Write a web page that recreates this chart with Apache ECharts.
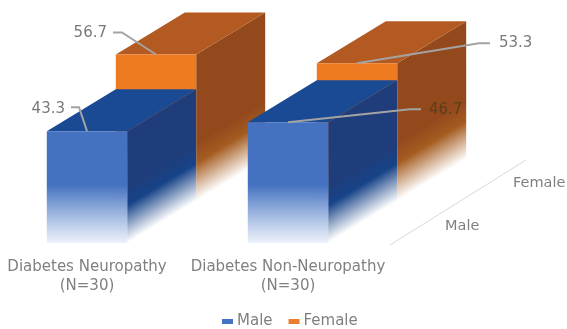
<!DOCTYPE html>
<html>
<head>
<meta charset="utf-8">
<title>Diabetes neuropathy by sex</title>
<style>
  html, body { margin: 0; padding: 0; background: #fff; }
  #chart { width: 567px; height: 329px; }
</style>
</head>
<body>
<div id="chart"></div>
<script src="https://cdn.jsdelivr.net/npm/echarts@6/dist/echarts.min.js"></script>
<script>
const categories = ['Diabetes Neuropathy\n(N=30)', 'Diabetes Non-Neuropathy\n(N=30)']
const depthLabels = ['Male', 'Female']
const maleValues = [43.3, 46.7]
const femaleValues = [56.7, 53.3]

// oblique projection of one depth step
const DEPTH_X = 69
const DEPTH_Y = -42
const FONT = '"DejaVu Sans", sans-serif'

const palettes = {
  male: { front: '#4472c0', top: '#1a4a94', side: ['#1f3d7a', '#174388'], fade: 58 },
  female: { front: '#ee7b22', top: '#b35a22', side: ['#93491c', '#a55c20'], fade: 58 }
}

// leader line of each label, relative to the middle of the bar's top front edge
const maleLeaders = [
  { knee: [-8, -24], end: [-16, -24], text: [-22, -22], color: '#7a7a7a' },
  { knee: [122, -13], end: [133, -13], text: [141, -12], color: '#5c3d1c' }
]
const femaleLeaders = [
  { knee: [-34, -22], end: [-43, -22], text: [-49, -21], color: '#7a7a7a' },
  { knee: [122, -20], end: [133, -20], text: [142, -20], color: '#7a7a7a' }
]

function fadeStops (from, to, fade) {
  return [
    { offset: 0, color: from },
    { offset: 0.35, color: to },
    { offset: 1, color: fade }
  ]
}

function renderBar (depth, palette, leaders, params, api) {
  const idx = api.value(0)
  const value = api.value(1)
  const w = api.size([1, 0])[0] * 0.4
  const mid = api.coord([idx, value])
  const base = api.coord([idx, 0])
  const cx = mid[0] + depth * DEPTH_X
  const l = cx - w / 2
  const r = cx + w / 2
  const t = mid[1] + depth * DEPTH_Y
  const b = base[1] + depth * DEPTH_Y

  // side face fades along lines parallel to its bottom edge
  const len = Math.hypot(DEPTH_X, DEPTH_Y)
  const nx = -DEPTH_Y / len
  const ny = DEPTH_X / len
  const fadeLen = palette.fade * ny
  const sideFill = new echarts.graphic.LinearGradient(
    r - nx * fadeLen, b - ny * fadeLen, r, b,
    fadeStops(palette.side[0], palette.side[1], 'rgba(255,255,255,0.95)'), true)
  const frontFill = new echarts.graphic.LinearGradient(
    0, b - palette.fade, 0, b,
    [{ offset: 0, color: palette.front }, { offset: 1, color: 'rgba(235,241,250,0.9)' }], true)

  const leader = leaders[params.dataIndex]
  return {
    type: 'group',
    children: [
      {
        type: 'polygon',
        shape: { points: [[r, t], [r + DEPTH_X, t + DEPTH_Y], [r + DEPTH_X, b + DEPTH_Y], [r, b]] },
        style: { fill: sideFill }
      },
      {
        type: 'polygon',
        shape: { points: [[l, t], [r, t], [r + DEPTH_X, t + DEPTH_Y], [l + DEPTH_X, t + DEPTH_Y]] },
        style: { fill: palette.top }
      },
      {
        type: 'rect',
        shape: { x: l, y: t, width: w, height: b - t },
        style: { fill: frontFill }
      },
      {
        type: 'polyline',
        shape: { points: [[cx, t], [cx + leader.knee[0], t + leader.knee[1]], [cx + leader.end[0], t + leader.end[1]]] },
        style: { stroke: '#a3a3a3', lineWidth: 2, fill: null }
      },
      {
        type: 'text',
        x: cx + leader.text[0],
        y: t + leader.text[1],
        style: {
          text: value.toFixed(1),
          fill: leader.color,
          font: '15px ' + FONT,
          align: leader.text[0] < 0 ? 'right' : 'left',
          verticalAlign: 'middle'
        }
      }
    ]
  }
}

// depth axis to the right of the last bar, one label per depth step
function renderDepthAxis (params, api) {
  const origin = api.coord([categories.length - 1, 0])
  const sx = origin[0] + 102
  const sy = origin[1] + 2
  const children = []
  if (params.dataIndex === 0) {
    children.push({
      type: 'line',
      shape: { x1: sx, y1: sy, x2: sx + depthLabels.length * 68, y2: sy + depthLabels.length * -42.5 },
      style: { stroke: '#d9d9d9', lineWidth: 1 }
    })
  }
  children.push({
    type: 'text',
    x: sx + (params.dataIndex + 0.5) * 68 + 21,
    y: sy + (params.dataIndex + 0.5) * -42.5 + 2,
    style: {
      text: depthLabels[params.dataIndex],
      fill: '#808080',
      font: '14.5px ' + FONT,
      verticalAlign: 'middle'
    }
  })
  return { type: 'group', children }
}

const chart = echarts.init(document.getElementById('chart'), null, { renderer: 'canvas' })
chart.setOption({
  animation: false,
  backgroundColor: '#fff',
  legend: {
    data: ['Male', 'Female'],
    top: 314,
    left: 222,
    padding: 0,
    icon: 'rect',
    itemWidth: 11,
    itemHeight: 5,
    itemGap: 16,
    textStyle: { color: '#808080', fontFamily: FONT, fontSize: 15, padding: [0, 0, 0, -1] }
  },
  grid: { left: -13.5, width: 402, top: 88, height: 155, outerBoundsMode: 'none' },
  xAxis: {
    type: 'category',
    data: categories,
    axisLine: { show: false },
    axisTick: { show: false },
    axisLabel: { interval: 0, color: '#808080', fontFamily: FONT, fontSize: 15, lineHeight: 19, margin: 15 }
  },
  yAxis: { type: 'value', min: 0, max: 60, show: false },
  series: [
    {
      name: 'Female',
      type: 'custom',
      itemStyle: { color: '#ed7d31' },
      renderItem: (params, api) => renderBar(1, palettes.female, femaleLeaders, params, api),
      encode: { x: 0, y: 1 },
      data: femaleValues.map((v, i) => [i, v])
    },
    {
      name: 'Male',
      type: 'custom',
      itemStyle: { color: '#4472c4' },
      renderItem: (params, api) => renderBar(0, palettes.male, maleLeaders, params, api),
      encode: { x: 0, y: 1 },
      data: maleValues.map((v, i) => [i, v])
    },
    {
      type: 'custom',
      renderItem: renderDepthAxis,
      silent: true,
      data: depthLabels.map((name, i) => [i, 0])
    }
  ]
})
</script>
</body>
</html>
